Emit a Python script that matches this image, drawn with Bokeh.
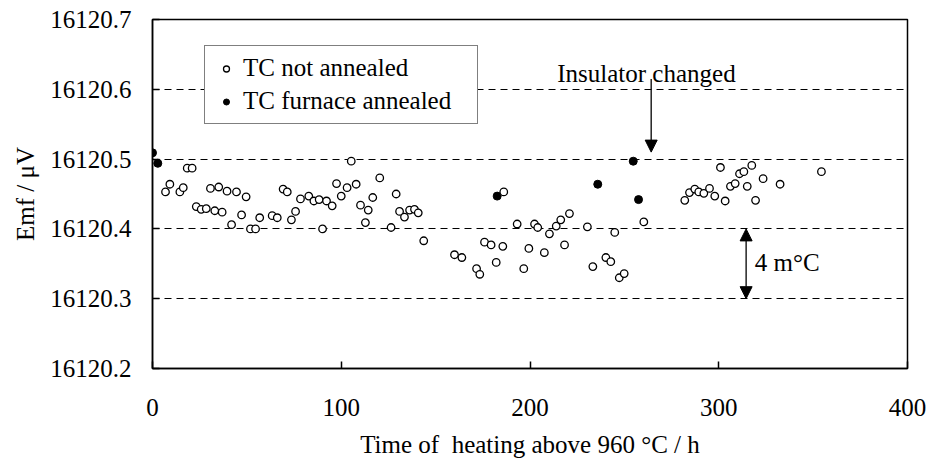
from bokeh.plotting import figure
from bokeh.models import (Range1d, FixedTicker, Legend, LegendItem, Arrow,
                          NormalHead, Label, PrintfTickFormatter)
from bokeh.embed import file_html
from bokeh.resources import INLINE

# ---- data ----
not_annealed_h = [6.9, 9.2, 14.5, 16.3, 18.4, 21.0, 23.2, 25.8, 28.5, 30.7, 33.0, 35.1,
                  36.9, 39.5, 41.9, 44.5, 47.2, 49.6, 51.9, 54.6, 56.8, 63.4, 66.1, 69.2,
                  71.4, 73.6, 75.8, 78.4, 82.8, 85.5, 88.3, 90.1, 92.2, 95.2, 97.5, 100.0,
                  103.1, 105.3, 107.9, 110.2, 112.8, 114.3, 116.7, 120.4, 126.4, 129.1,
                  130.9, 133.5, 136.2, 138.8, 140.8, 143.7, 160.0, 163.9, 171.7, 173.4,
                  175.9, 179.4, 182.1, 185.6, 186.1, 193.2, 196.7, 199.4, 202.4, 204.1,
                  207.6, 210.3, 213.9, 216.3, 218.3, 220.9, 230.4, 233.3, 240.2, 242.8,
                  244.9, 247.3, 249.9, 260.3, 282.0, 284.5, 287.3, 289.4, 292.1, 295.1,
                  297.9, 300.9, 303.4, 306.2, 308.7, 311.0, 313.3, 315.1, 317.5, 319.5,
                  323.5, 332.5, 354.4]
not_annealed_emf = [16120.453, 16120.464, 16120.453, 16120.459, 16120.487, 16120.487,
                    16120.432, 16120.428, 16120.429, 16120.458, 16120.426, 16120.460,
                    16120.424, 16120.454, 16120.406, 16120.453, 16120.420, 16120.446,
                    16120.400, 16120.400, 16120.416, 16120.419, 16120.416, 16120.457,
                    16120.453, 16120.413, 16120.425, 16120.443, 16120.447, 16120.440,
                    16120.442, 16120.400, 16120.440, 16120.433, 16120.465, 16120.447,
                    16120.459, 16120.497, 16120.464, 16120.434, 16120.409, 16120.427,
                    16120.445, 16120.473, 16120.402, 16120.450, 16120.425, 16120.417,
                    16120.427, 16120.428, 16120.423, 16120.383, 16120.363, 16120.359,
                    16120.343, 16120.335, 16120.381, 16120.377, 16120.352, 16120.375,
                    16120.453, 16120.407, 16120.343, 16120.372, 16120.407, 16120.402,
                    16120.366, 16120.393, 16120.404, 16120.413, 16120.377, 16120.422,
                    16120.403, 16120.346, 16120.359, 16120.353, 16120.395, 16120.330,
                    16120.336, 16120.410, 16120.441, 16120.452, 16120.457, 16120.453,
                    16120.451, 16120.458, 16120.447, 16120.488, 16120.440, 16120.461,
                    16120.465, 16120.479, 16120.482, 16120.461, 16120.491, 16120.441,
                    16120.472, 16120.464, 16120.482]
annealed_h = [0.0, 2.8, 182.6, 235.9, 254.7, 257.5]
annealed_emf = [16120.509, 16120.494, 16120.447, 16120.464, 16120.497, 16120.442]

x_ticks = [0, 100, 200, 300, 400]
y_ticks = [16120.2, 16120.3, 16120.4, 16120.5, 16120.6, 16120.7]
y_tick_labels = ["16120.2", "16120.3", "16120.4", "16120.5", "16120.6", "16120.7"]
grid_levels = [16120.3, 16120.4, 16120.5, 16120.6]

FONT = "Liberation Serif"
FS = "25px"

p = figure(width=930, height=463, output_backend="svg", toolbar_location=None,
           x_range=Range1d(0, 400), y_range=Range1d(16120.2, 16120.7),
           min_border_left=152, min_border_right=23, min_border_top=19,
           min_border_bottom=95)
p.background_fill_color = "white"
p.border_fill_color = "white"
p.outline_line_color = "black"
p.outline_line_width = 1.5

p.xgrid.visible = False
p.ygrid.ticker = FixedTicker(ticks=grid_levels)
p.ygrid.grid_line_color = "black"
p.ygrid.grid_line_dash = "7 5"
p.ygrid.grid_line_width = 1

p.xaxis.ticker = FixedTicker(ticks=x_ticks)
p.yaxis.ticker = FixedTicker(ticks=y_ticks)
p.yaxis.formatter = PrintfTickFormatter(format="%.1f")
p.yaxis.major_label_overrides = dict(zip(y_ticks, y_tick_labels))

for ax in (p.xaxis[0], p.yaxis[0]):
    ax.axis_line_color = "black"
    ax.axis_line_width = 1.5
    ax.major_tick_in = 7
    ax.major_tick_out = 0
    ax.major_tick_line_color = "black"
    ax.major_tick_line_width = 1.5
    ax.minor_tick_line_color = None
    ax.major_label_text_font = FONT
    ax.major_label_text_font_size = FS
    ax.major_label_text_color = "black"
    ax.axis_label_text_font = FONT
    ax.axis_label_text_font_size = FS
    ax.axis_label_text_font_style = "normal"
    ax.axis_label_text_color = "black"

p.xaxis.major_label_standoff = 30
p.yaxis.major_label_standoff = 21
p.xaxis.axis_label = "Time of \u00a0heating above 960 °C / h"
p.yaxis.axis_label = "Emf / μV"
p.xaxis.axis_label_standoff = 12
p.yaxis.axis_label_standoff = 8

r_ann = p.scatter(annealed_h, annealed_emf, marker="circle", size=8,
                  fill_color="black", line_color="black", line_width=1)
r_open = p.scatter(not_annealed_h, not_annealed_emf, marker="circle", size=7.5,
                   fill_color="white", line_color="black", line_width=1.3)

legend = Legend(items=[LegendItem(label="TC not annealed", renderers=[r_open]),
                       LegendItem(label="TC furnace annealed", renderers=[r_ann])],
                location=(52, 244), margin=0, padding=8, spacing=5,
                glyph_width=26, glyph_height=15, label_standoff=4, label_width=226,
                label_text_font=FONT, label_text_font_size=FS,
                label_text_color="black",
                border_line_color="black", border_line_width=1.3,
                background_fill_color="white", background_fill_alpha=1.0)
p.add_layout(legend)

p.add_layout(Arrow(end=NormalHead(size=12, fill_color="black", line_color="black"),
                   x_start=264.2, y_start=16120.6146, x_end=264.2, y_end=16120.510,
                   line_color="black", line_width=1.3))
p.add_layout(Arrow(start=NormalHead(size=12, fill_color="black", line_color="black"),
                   end=NormalHead(size=12, fill_color="black", line_color="black"),
                   x_start=314.5, y_start=16120.4, x_end=314.5, y_end=16120.3,
                   line_color="black", line_width=1.3))
p.add_layout(Label(x=261.7, y=16120.623, text="Insulator changed",
                   text_align="center", text_baseline="alphabetic",
                   text_font=FONT, text_font_size=FS, text_color="black"))
p.add_layout(Label(x=319.1, y=16120.3525, text="4 m°C",
                   text_align="left", text_baseline="middle",
                   text_font=FONT, text_font_size=FS, text_color="black"))

open("out.html", "w").write(file_html(p, INLINE))
